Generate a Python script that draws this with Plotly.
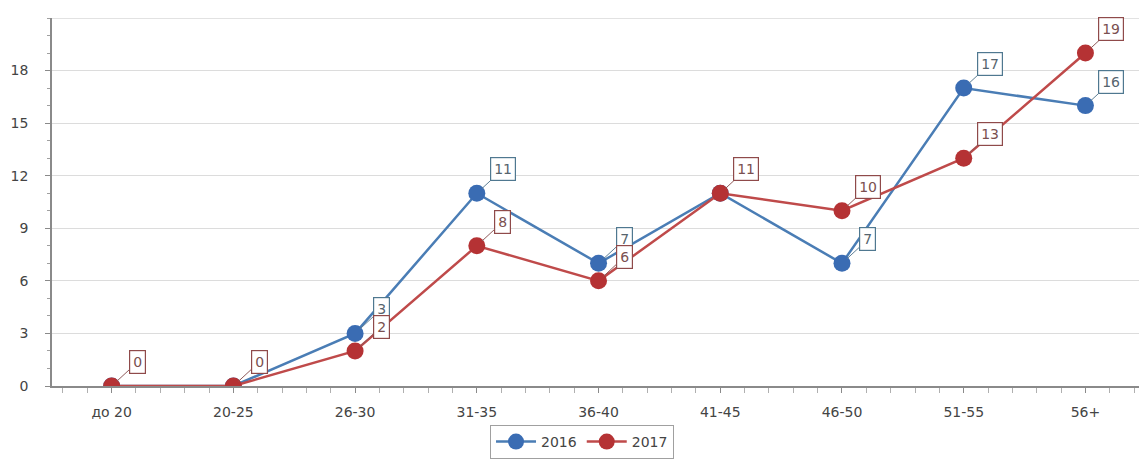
import plotly.graph_objects as go

categories = ["до 20", "20-25", "26-30", "31-35", "36-40", "41-45", "46-50", "51-55", "56+"]
values_2016 = [0, 0, 3, 11, 7, 11, 7, 17, 16]
values_2017 = [0, 0, 2, 8, 6, 11, 10, 13, 19]
y_ticks = [0, 3, 6, 9, 12, 15, 18]

x = list(range(len(categories)))

blue_line = "#4a7db5"
blue_marker = "#3a6cb3"
red_line = "#bf4a4a"
red_marker = "#b53234"

fig = go.Figure()
fig.add_trace(go.Scatter(
    x=x, y=values_2016, name="2016", mode="lines+markers",
    line=dict(color=blue_line, width=2.5),
    marker=dict(color=blue_marker, size=17),
))
fig.add_trace(go.Scatter(
    x=x, y=values_2017, name="2017", mode="lines+markers",
    line=dict(color=red_line, width=2.5),
    marker=dict(color=red_marker, size=17),
))

annotations = []
for i, (a, b) in enumerate(zip(values_2016, values_2017)):
    if a != b:
        annotations.append(dict(
            x=i, y=a, xref="x", yref="y", text=str(a),
            showarrow=True, arrowhead=0, arrowwidth=1, arrowcolor="#5f7f95",
            ax=26, ay=-24, standoff=7,
            bordercolor="#4f7890", borderwidth=1.2, borderpad=3, bgcolor="white",
            font=dict(family="DejaVu Sans", size=14, color="#56646e"),
        ))
    annotations.append(dict(
        x=i, y=b, xref="x", yref="y", text=str(b),
        showarrow=True, arrowhead=0, arrowwidth=1, arrowcolor="#8f5a5a",
        ax=26, ay=-24, standoff=7,
        bordercolor="#8f4a4a", borderwidth=1.2, borderpad=3, bgcolor="white",
        font=dict(family="DejaVu Sans", size=14, color="#7a5050"),
    ))

fig.update_layout(
    width=1139, height=460,
    margin=dict(l=52, r=0, t=18, b=74),
    paper_bgcolor="white", plot_bgcolor="white",
    font=dict(family="DejaVu Sans", size=14, color="#444444"),
    showlegend=True,
    legend=dict(
        orientation="h", x=0.4876, xanchor="center", y=-0.152, yanchor="middle",
        bordercolor="#a0a0a0", borderwidth=1, font=dict(size=14, color="#444"),
        itemwidth=40, tracegroupgap=0,
    ),
    annotations=annotations,
    shapes=[dict(type="line", xref="paper", yref="y", x0=0, x1=1, y0=21, y1=21,
                 line=dict(color="#d8d8d8", width=1.5))],
)
fig.update_xaxes(
    range=[-0.49, 8.44], tickvals=x, ticktext=categories,
    showgrid=False, zeroline=False,
    showline=True, linecolor="#8a8a8a", linewidth=1.5,
    ticks="outside", ticklen=5, tickcolor="#8a8a8a",
    minor=dict(dtick=0.2, tick0=0, ticks="outside", ticklen=5, tickcolor="#b0b0b0", showgrid=False),
    tickfont=dict(size=14, color="#444444"),
    ticklabelstandoff=7,
)
fig.update_yaxes(
    range=[0, 21], tickvals=y_ticks,
    showgrid=True, gridcolor="#dcdcdc", gridwidth=1, zeroline=False,
    showline=True, linecolor="#8a8a8a", linewidth=1.5,
    ticks="outside", ticklen=5, tickcolor="#8a8a8a",
    minor=dict(dtick=1, tick0=0, ticks="outside", ticklen=3, tickcolor="#a0a0a0", showgrid=False),
    ticklabelstandoff=14,
    tickfont=dict(size=14, color="#444444"),
)

fig.write_html(
    "out.html",
    config={"displayModeBar": False},
    post_script=(
        "document.documentElement.style.margin='0px';"
        "document.documentElement.style.overflow='hidden';"
        "document.body.style.margin='0px';"
        "document.body.style.overflow='hidden';"
    ),
)
